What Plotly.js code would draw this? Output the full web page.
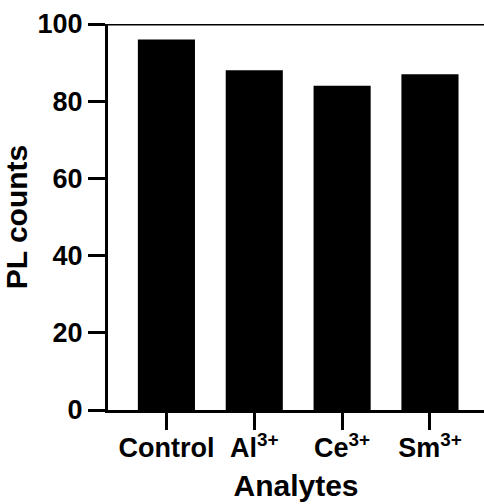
<!DOCTYPE html>
<html><head><meta charset="utf-8">
<script src="https://cdn.plot.ly/plotly-3.0.1.min.js"></script>
<style>html,body{margin:0;padding:0;background:#fff}</style>
</head><body>
<div id="chart" style="width:484px;height:504px"></div>
<script>
const categories = ['Control', 'Al<sup>3+</sup>', 'Ce<sup>3+</sup>', 'Sm<sup>3+</sup>'];
const plCounts = [96, 88, 84, 87];
const yTickVals = [0, 20, 40, 60, 80, 100];
const xTitle = 'Analytes';
const yTitle = 'PL counts';

const font = 'Liberation Sans, Arial, Helvetica, sans-serif';
const xIdx = categories.map((c, i) => i);

Plotly.newPlot('chart', [{
  type: 'bar',
  x: xIdx,
  y: plCounts,
  width: 0.65,
  marker: {color: '#000000', line: {width: 0}},
  hoverinfo: 'none'
}], {
  width: 484, height: 504,
  margin: {l: 108, r: 0, t: 24, b: 94},
  paper_bgcolor: '#ffffff', plot_bgcolor: '#ffffff',
  showlegend: false,
  font: {family: font, color: '#000'},
  xaxis: {
    range: [-0.665, 3.615],
    tickmode: 'array', tickvals: xIdx, ticktext: categories,
    ticks: 'outside', ticklen: 17, tickwidth: 3, tickcolor: '#000',
    ticklabelstandoff: -5,
    showline: true, linewidth: 3, linecolor: '#000',
    showgrid: false, zeroline: false,
    tickfont: {family: font, size: 27, weight: 'bold', color: '#000'},
    title: {text: xTitle, font: {family: font, size: 30, weight: 'bold', color: '#000'}, standoff: 13}
  },
  yaxis: {
    range: [0, 100],
    tickmode: 'array', tickvals: yTickVals,
    ticks: 'outside', ticklen: 17, tickwidth: 3, tickcolor: '#000',
    showline: true, linewidth: 3, linecolor: '#000',
    showgrid: false, zeroline: false,
    tickfont: {family: font, size: 27, weight: 'bold', color: '#000'},
    title: {text: yTitle, font: {family: font, size: 30, weight: 'bold', color: '#000'}, standoff: 6}
  },
  shapes: [{type: 'line', xref: 'paper', yref: 'y', x0: 0, x1: 1, y0: 100, y1: 100,
            line: {color: '#000', width: 3}}]
}, {staticPlot: true, displayModeBar: false});
</script>
</body></html>
